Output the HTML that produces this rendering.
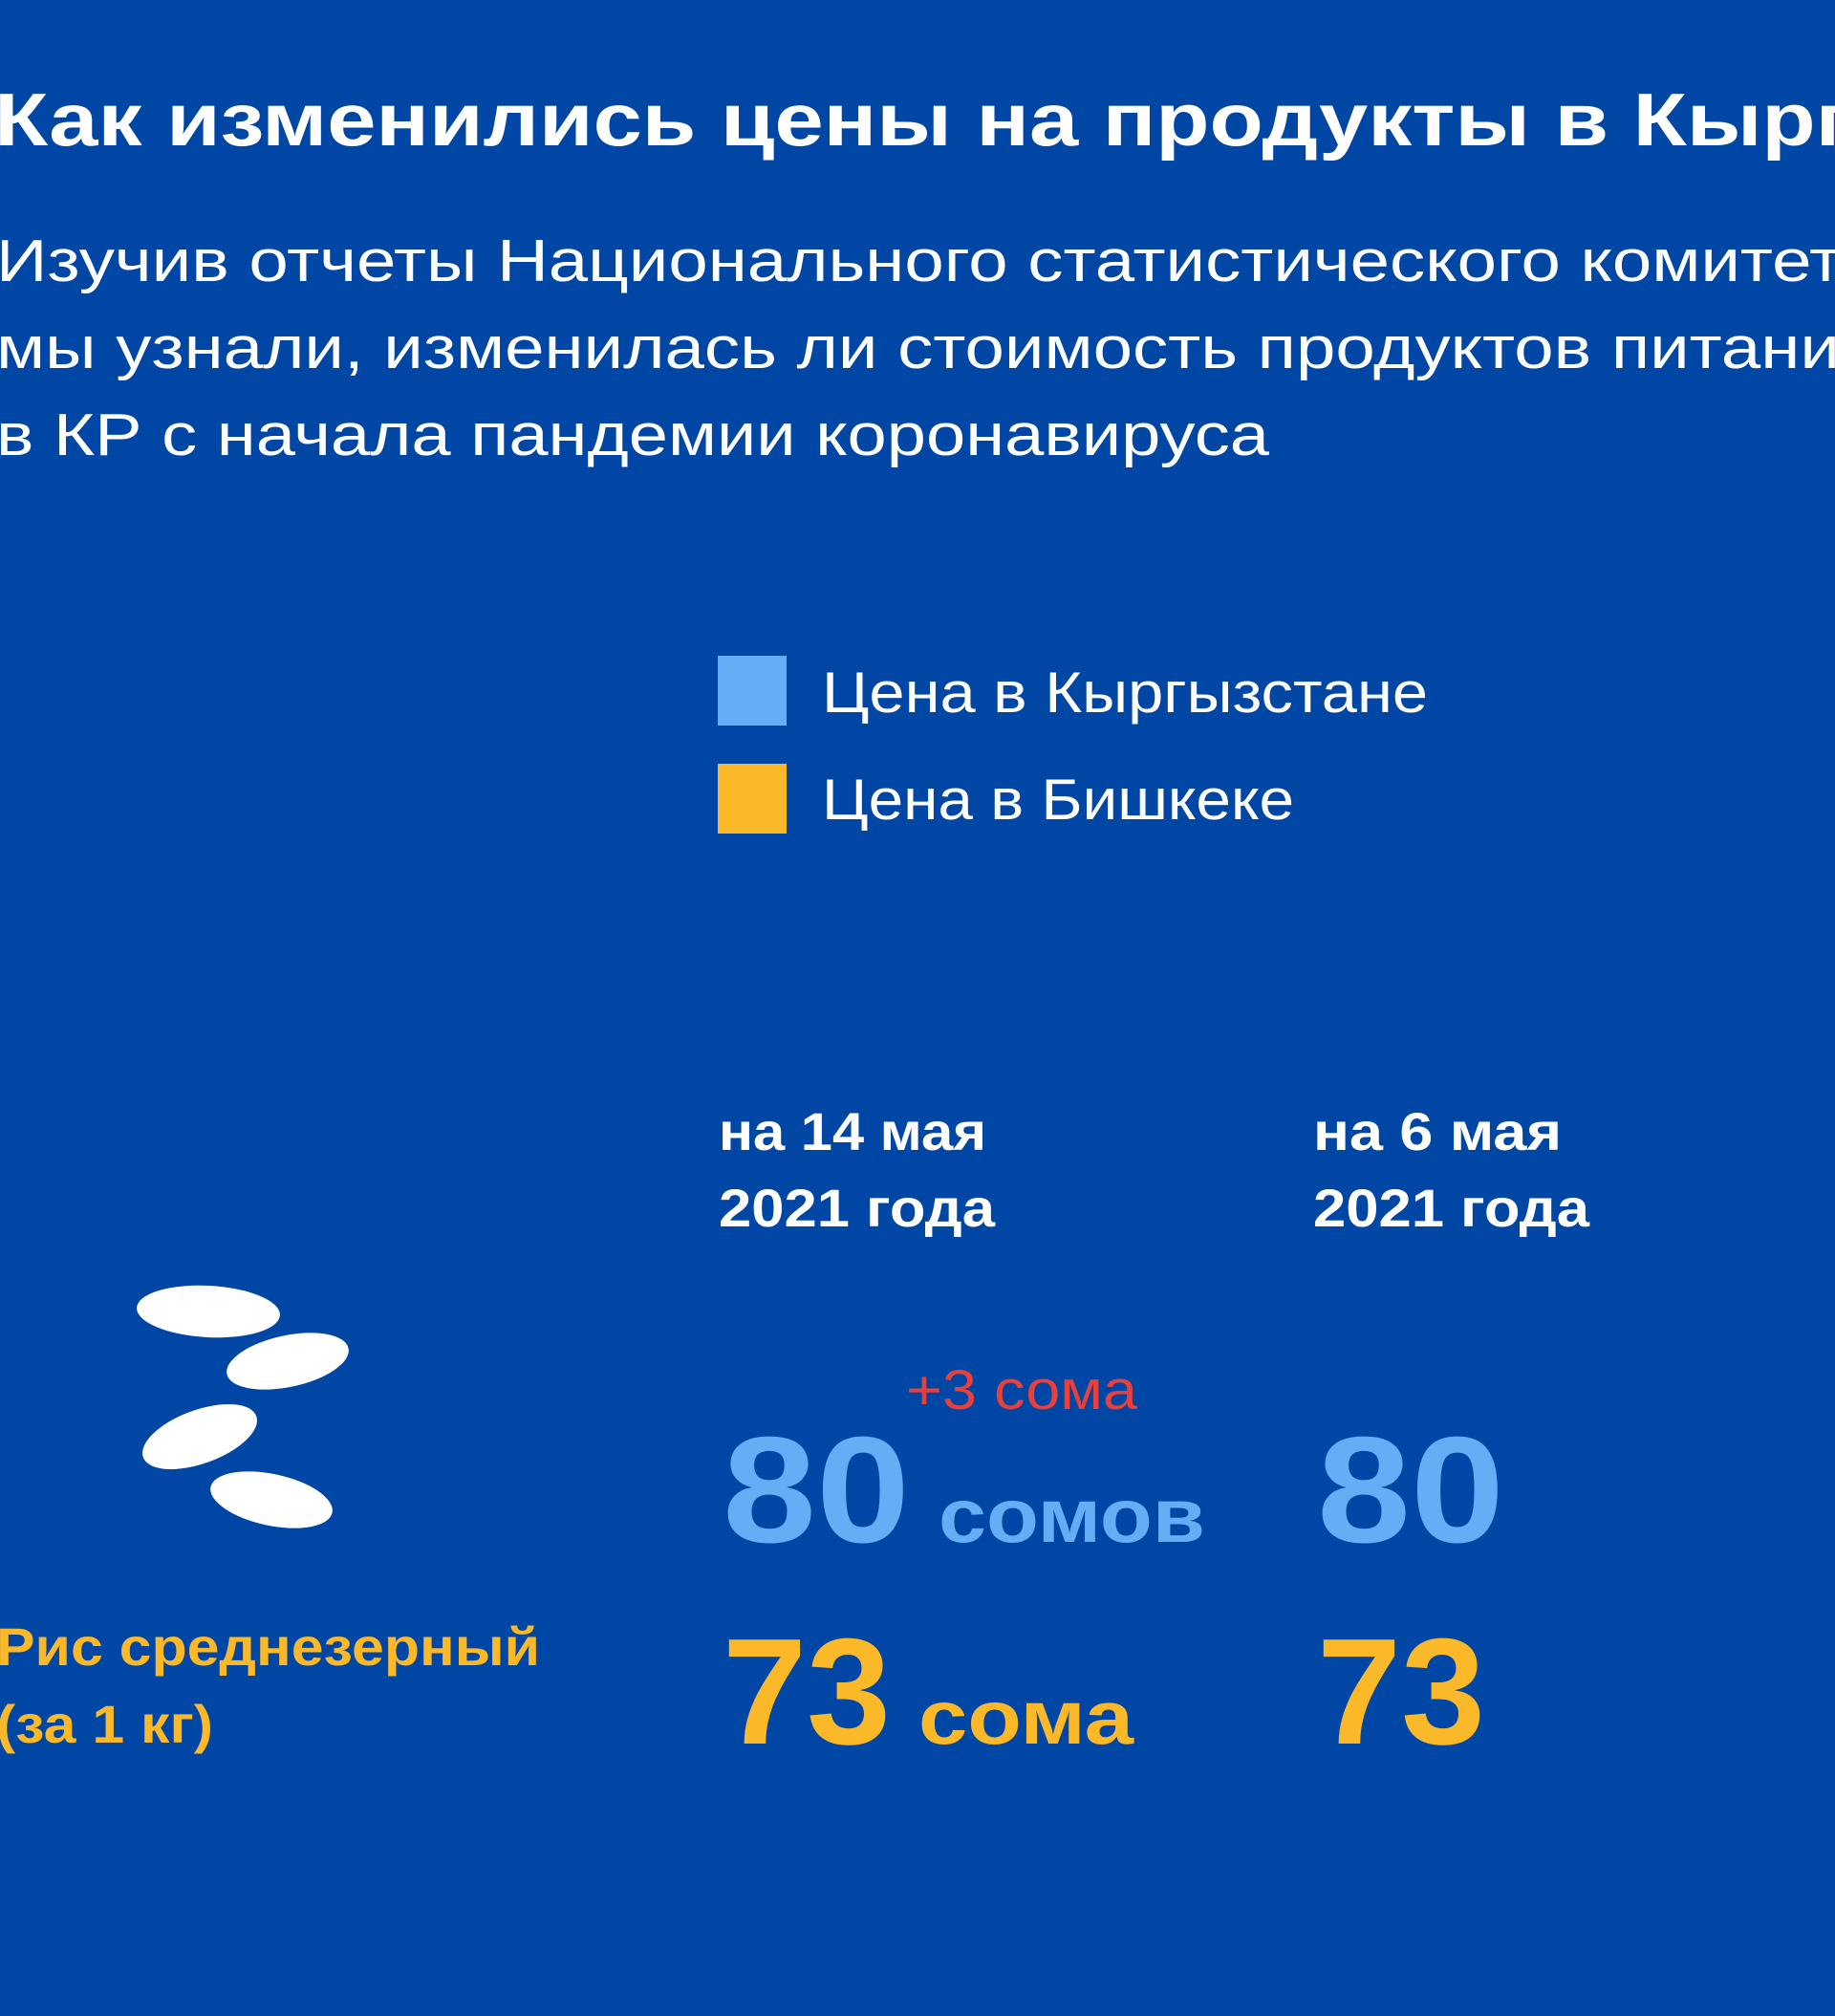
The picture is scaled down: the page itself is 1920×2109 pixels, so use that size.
<!DOCTYPE html>
<html><head><meta charset="utf-8"><style>
html,body{margin:0;padding:0;background:#0046a5;}
svg{display:block}
text{font-family:"Liberation Sans","DejaVu Sans",sans-serif;}
</style></head><body>
<svg width="1920" height="2109" viewBox="0 0 1920 2109" xmlns="http://www.w3.org/2000/svg">
<rect width="1920" height="2109" fill="#0046a5"/>
<text transform="translate(-6,152) scale(1.18,1)" x="0" y="0" font-size="78" font-weight="bold" fill="#fff">Как изменились цены на продукты в Кыргызстане</text>
<g font-size="62" fill="#fff">
<text transform="translate(-4,294) scale(1.2,1)">Изучив отчеты Национального статистического комитета,</text>
<text transform="translate(-4,385) scale(1.2,1)">мы узнали, изменилась ли стоимость продуктов питания</text>
<text x="-4" y="476" textLength="1332" lengthAdjust="spacingAndGlyphs">в КР с начала пандемии коронавируса</text>
</g>
<rect x="751" y="686" width="72" height="73" fill="#64aef5"/>
<rect x="751" y="799" width="72" height="73" fill="#fbb829"/>
<g font-size="60" fill="#fff">
<text x="860" y="745" textLength="634" lengthAdjust="spacingAndGlyphs">Цена в Кыргызстане</text>
<text x="860" y="857" textLength="494" lengthAdjust="spacingAndGlyphs">Цена в Бишкеке</text>
</g>
<g font-size="56" font-weight="bold" fill="#fff">
<text x="752" y="1203" textLength="280" lengthAdjust="spacingAndGlyphs">на 14 мая</text>
<text x="752" y="1283" textLength="289" lengthAdjust="spacingAndGlyphs">2021 года</text>
<text x="1374" y="1203" textLength="260" lengthAdjust="spacingAndGlyphs">на 6 мая</text>
<text x="1374" y="1283" textLength="289" lengthAdjust="spacingAndGlyphs">2021 года</text>
</g>
<g fill="#fff">
<ellipse cx="218" cy="1372" rx="75" ry="27" transform="rotate(3 218 1372)"/>
<ellipse cx="301" cy="1424" rx="65" ry="27" transform="rotate(-12 301 1424)"/>
<ellipse cx="209" cy="1503" rx="63" ry="28" transform="rotate(-20 209 1503)"/>
<ellipse cx="284" cy="1569" rx="65" ry="27" transform="rotate(12 284 1569)"/>
</g>
<g font-size="56" font-weight="bold" fill="#fbb829">
<text x="-4" y="1742" textLength="569" lengthAdjust="spacingAndGlyphs">Рис среднезерный</text>
<text x="-4" y="1823" textLength="227" lengthAdjust="spacingAndGlyphs">(за 1 кг)</text>
</g>
<text x="948" y="1474" font-size="58" fill="#e8403a" textLength="242" lengthAdjust="spacingAndGlyphs">+3 сома</text>
<g font-weight="bold" fill="#64aef5">
<text x="756" y="1613" font-size="158" textLength="196" lengthAdjust="spacingAndGlyphs">80</text>
<text x="982" y="1613" font-size="80" textLength="279" lengthAdjust="spacingAndGlyphs">сомов</text>
<text x="1378" y="1613" font-size="158" textLength="196" lengthAdjust="spacingAndGlyphs">80</text>
</g>
<g font-weight="bold" fill="#fbb829">
<text x="756" y="1824" font-size="158" textLength="176" lengthAdjust="spacingAndGlyphs">73</text>
<text x="961" y="1824" font-size="80" textLength="225" lengthAdjust="spacingAndGlyphs">сома</text>
<text x="1378" y="1824" font-size="158" textLength="176" lengthAdjust="spacingAndGlyphs">73</text>
</g>
</svg>
</body></html>
